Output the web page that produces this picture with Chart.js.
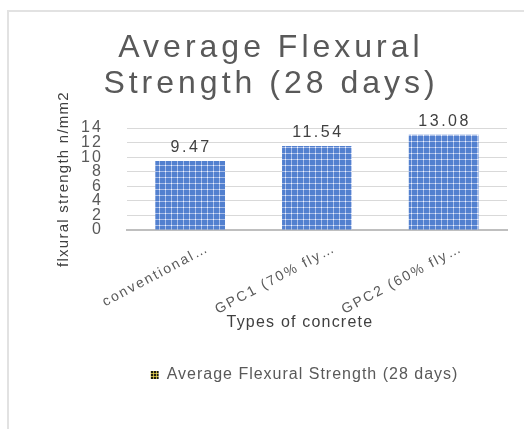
<!DOCTYPE html>
<html>
<head>
<meta charset="utf-8">
<script src="https://cdn.jsdelivr.net/npm/chart.js@4.4.1/dist/chart.umd.min.js"></script>
<style>
  html, body { margin: 0; padding: 0; overflow: hidden; background: #fff; }
  #frame { position: absolute; left: 7px; top: 10px; width: 600px; height: 600px;
           border: 2px solid #e2e2e2; box-sizing: border-box; }
  #chart { position: absolute; left: 0; top: 0; }
</style>
</head>
<body>
<div id="frame"></div>
<canvas id="chart" width="524" height="429"></canvas>
<script>
const categories = ['conventional\u2026', 'GPC1 (70% fly\u2026', 'GPC2 (60% fly\u2026'];
const flexural = [9.47, 11.54, 13.08];
const seriesName = 'Average Flexural Strength (28 days)';
const titleLines = ['Average Flexural', 'Strength (28 days)'];
const FONT = '"Liberation Sans", Arial, sans-serif';

// excel-ish small grid fill
function makePattern(bg, line, dot, size) {
  const c = document.createElement('canvas');
  c.width = size; c.height = size;
  const g = c.getContext('2d');
  const m = Math.floor(size / 2);
  g.fillStyle = bg; g.fillRect(0, 0, size, size);
  g.fillStyle = line;
  g.fillRect(0, m, size, 1);
  g.fillRect(m, 0, 1, size);
  g.fillStyle = dot;
  g.fillRect(m, m, 1, 1);
  return g.createPattern(c, 'repeat');
}
const barFill = makePattern('#5280cf', '#a8bde8', '#f4f7fd', 6);
const legendFill = makePattern('#1c1c12', '#b8a63a', '#e0d060', 3);

const spacing = {
  id: 'spacing',
  beforeLayout(chart) { chart.ctx.letterSpacing = '2px'; },
  beforeDraw(chart) { chart.ctx.letterSpacing = '2px'; }
};

const valueLabels = {
  id: 'valueLabels',
  afterDatasetsDraw(chart) {
    const ctx = chart.ctx;
    const meta = chart.getDatasetMeta(0);
    ctx.save();
    ctx.letterSpacing = '2.5px';
    ctx.font = '16px ' + FONT;
    ctx.fillStyle = '#404040';
    ctx.textAlign = 'center';
    ctx.textBaseline = 'bottom';
    meta.data.forEach((bar, i) => {
      ctx.fillText(flexural[i].toFixed(2), bar.x + 1, bar.y - 5);
    });
    ctx.restore();
  }
};

const chart = new Chart(document.getElementById('chart'), {
  type: 'bar',
  data: {
    labels: categories,
    datasets: [{
      label: seriesName,
      data: flexural,
      backgroundColor: barFill,
      borderWidth: 0,
      barPercentage: 0.55,
      categoryPercentage: 1
    }]
  },
  options: {
    responsive: false,
    animation: false,
    layout: { padding: { left: 37, right: 17, top: 10, bottom: 36 } },
    plugins: {
      tooltip: { enabled: false },
      title: {
        display: true,
        text: titleLines,
        color: '#595959',
        font: { family: FONT, size: 32, weight: 'normal', lineHeight: 1.125 },
        padding: { top: 20, bottom: 26 }
      },
      legend: {
        position: 'bottom',
        labels: {
          boxWidth: 8,
          boxHeight: 8,
          padding: 10,
          color: '#595959',
          font: { family: FONT, size: 16 },
          generateLabels(ch) {
            const items = Chart.defaults.plugins.legend.labels.generateLabels(ch);
            items.forEach(it => { it.fillStyle = legendFill; it.strokeStyle = legendFill; it.lineWidth = 0; });
            return items;
          }
        }
      }
    },
    scales: {
      x: {
        grid: { display: false },
        border: { color: '#bfbfbf', width: 2 },
        afterFit(scale) { scale.height = 127; },
        ticks: {
          autoSkip: false,
          color: '#595959',
          minRotation: 28,
          maxRotation: 28,
          labelOffset: 18,
          padding: 2,
          font: { family: FONT, size: 14 }
        },
        title: {
          display: true,
          text: 'Types of concrete',
          color: '#404040',
          font: { family: FONT, size: 16 },
          padding: { top: 0, bottom: 25 }
        }
      },
      y: {
        min: 0,
        max: 14,
        grid: { color: '#d9d9d9', drawTicks: false },
        border: { display: false },
        ticks: {
          autoSkip: false,
          stepSize: 2,
          padding: 24,
          color: '#595959',
          font: { family: FONT, size: 16 }
        },
        title: {
          display: true,
          text: 'flxural strength n/mm2',
          color: '#404040',
          font: { family: FONT, size: 15 },
          padding: { top: 2, bottom: 0 }
        }
      }
    }
  },
  plugins: [spacing, valueLabels]
});

// per-element tracking and nudges, like the exported original
function nudge(obj, method, dx, track) {
  const orig = obj[method];
  obj[method] = function (...args) {
    const ctx = chart.ctx;
    ctx.save();
    ctx.translate(dx, 0);
    ctx.letterSpacing = track;
    orig.apply(this, args);
    ctx.restore();
  };
}
nudge(chart.titleBlock, 'draw', -1, '4px');
nudge(chart.legend, 'draw', 50, '1px');
nudge(chart.scales.x, 'drawTitle', -17, '1.2px');
nudge(chart.scales.y, 'drawTitle', 16, '1.25px');
chart.draw();
</script>
</body>
</html>
